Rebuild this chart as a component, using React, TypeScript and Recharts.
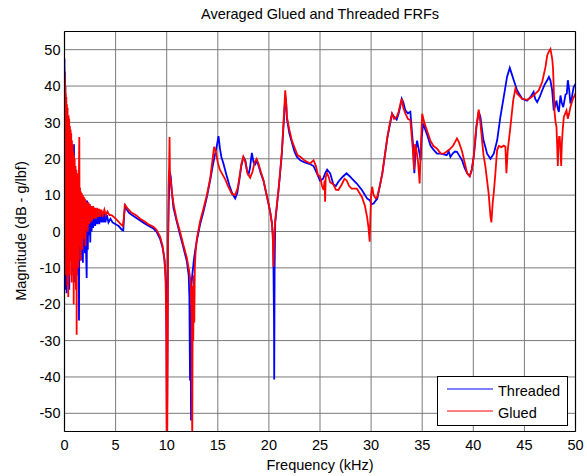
import { CartesianGrid, Line, LineChart, XAxis, YAxis } from "recharts";

const FONT = '"Liberation Sans", Arial, Helvetica, sans-serif';

// axis ticks
const xTicks = [0, 5, 10, 15, 20, 25, 30, 35, 40, 45, 50];
const yTicks = [-50, -40, -30, -20, -10, 0, 10, 20, 30, 40, 50];

// Threaded FRF: [frequency kHz, magnitude dB]
const threaded: [number, number][] = [
  [0, 47.5], [0.02, 20], [0.04, 44], [0.06, -10], [0.08, 40], [0.1, -15], [0.12, 37], [0.14, -16],
  [0.16, 35], [0.18, 0], [0.2, -17], [0.22, 33], [0.25, -5], [0.28, 31], [0.3, -10], [0.33, 29],
  [0.36, -6], [0.39, 27], [0.42, -12], [0.45, 26], [0.47, -16], [0.5, 24], [0.53, -4], [0.56, 23],
  [0.6, -8], [0.63, 22], [0.66, -2], [0.7, 21], [0.73, -11], [0.76, 20], [0.8, -6], [0.83, 19],
  [0.86, -12], [0.9, 18], [0.93, 24], [0.96, -8], [1.0, 17], [1.03, -14], [1.06, 16], [1.1, -5],
  [1.13, 15], [1.17, -10], [1.2, 14], [1.24, -3], [1.28, 13], [1.32, -12], [1.36, 12], [1.42, -24.5],
  [1.46, 11], [1.5, -6], [1.55, 10.5], [1.6, -8], [1.65, 10], [1.7, -3], [1.75, 9.5], [1.8, -8.6],
  [1.85, 9], [1.9, -2], [1.95, 9], [2.0, -6], [2.05, 8.5], [2.1, -4], [2.17, -12.8], [2.22, 8.5],
  [2.28, -5], [2.34, 8], [2.4, -1], [2.46, 7.5], [2.52, -3], [2.58, 7], [2.65, 0], [2.72, 7],
  [2.8, 1], [2.9, 6.5], [3.0, 1.5], [3.1, 6], [3.2, 2], [3.3, 5.5], [3.4, 2], [3.5, 5.5],
  [3.6, 2.5], [3.7, 5], [3.8, 2.5], [3.9, 5], [4.0, 2.5], [4.15, 4.5], [4.3, 2.5], [4.5, 3.5],
  [4.7, 2.5], [5.0, 2], [5.3, 1.5], [5.6, 0.5], [5.75, 0.3], [5.85, 5], [5.95, 7], [6.1, 6],
  [6.3, 5.2], [6.6, 4.5], [7.0, 3.8], [7.4, 3], [7.8, 2.3], [8.2, 1.6], [8.7, 0.8], [9.0, 0],
  [9.35, -2], [9.6, -4.5], [9.8, -8], [9.92, -14], [9.98, -30], [10.02, -60], [10.06, -40], [10.12, -5],
  [10.2, 8], [10.3, 16.5], [10.4, 15], [10.5, 11], [10.66, 6.5], [11.0, 2.5], [11.3, -0.8], [11.64, -4.5],
  [11.97, -8.2], [12.15, -12], [12.22, -18], [12.28, -41], [12.33, -20], [12.38, -52], [12.42, -15], [12.5, -12],
  [12.58, -10], [12.65, -8], [12.8, -5], [12.95, -2.5], [13.27, 2], [13.6, 5.5], [13.93, 9.5], [14.25, 14],
  [14.5, 18], [14.75, 21.5], [14.9, 23.5], [15.07, 26.2], [15.2, 23], [15.35, 20.5], [15.55, 18.7], [15.8, 16],
  [16.1, 13], [16.4, 10.5], [16.7, 9.1], [16.9, 10.5], [17.1, 14], [17.3, 18], [17.5, 20.5], [17.7, 19.5],
  [17.85, 17], [18.0, 15.5], [18.15, 17.5], [18.33, 21.6], [18.5, 19], [18.65, 18.5], [18.8, 19.5], [19.0, 18],
  [19.2, 16], [19.47, 14], [19.7, 11], [19.96, 7.7], [20.15, 5], [20.3, 2.2], [20.42, -2], [20.5, -25],
  [20.52, -40.7], [20.56, -10], [20.62, 2.6], [20.78, 7], [20.94, 11.4], [21.1, 16], [21.27, 21.6], [21.45, 30],
  [21.6, 37], [21.7, 35], [21.76, 31], [22.0, 27], [22.25, 24.5], [22.5, 22], [22.74, 20.5], [23.1, 19.5],
  [23.5, 19], [24.05, 18.5], [24.37, 18], [24.7, 16], [25.0, 14], [25.3, 14.5], [25.5, 16], [25.7, 17],
  [25.85, 16.5], [26.0, 16], [26.3, 13], [26.55, 12.5], [26.8, 13.7], [27.2, 15], [27.6, 16], [27.9, 15.2],
  [28.1, 14.6], [28.6, 13.2], [29.1, 11.4], [29.6, 9.1], [29.86, 8.6], [30.05, 7.5], [30.25, 7.7], [30.45, 8.5],
  [30.6, 9], [30.85, 12.5], [31.1, 16], [31.35, 21], [31.6, 26], [31.85, 29.5], [32.05, 32.4], [32.25, 31.5],
  [32.5, 30.8], [32.7, 32.5], [32.9, 35], [33.0, 36.5], [33.15, 35.5], [33.35, 33.3], [33.6, 32.5], [33.84, 32.9],
  [33.95, 29], [34.1, 24], [34.23, 16], [34.35, 22], [34.5, 25], [34.7, 22], [34.85, 19.6], [34.95, 26],
  [35.1, 29.7], [35.3, 28], [35.5, 26.5], [35.8, 23.7], [36.1, 22.5], [36.45, 21.4], [36.8, 21.4], [37.1, 21.2],
  [37.4, 21], [37.6, 22], [37.76, 20.5], [38.0, 21.5], [38.2, 22], [38.4, 21.9], [38.6, 21], [38.9, 19.6],
  [39.15, 17.5], [39.4, 16], [39.65, 15.2], [39.85, 17], [40.04, 20.5], [40.2, 25], [40.3, 28.7], [40.53, 32.9],
  [40.7, 31.5], [40.86, 27.8], [41.0, 25], [41.2, 23], [41.35, 21.4], [41.68, 20], [42.0, 21.4], [42.33, 25],
  [42.65, 31.5], [42.98, 37], [43.3, 42.5], [43.57, 45], [43.96, 41.6], [44.29, 38.8], [44.78, 36.5], [45.27, 36],
  [45.6, 37], [45.9, 38.4], [46.05, 36.5], [46.25, 35.6], [46.5, 37], [46.74, 38.8], [47.0, 40.5], [47.23, 41.6],
  [47.4, 42.5], [47.55, 41.5], [47.72, 38.8], [47.87, 33.3], [48.0, 34.5], [48.14, 36], [48.25, 34], [48.37, 32.9],
  [48.53, 37.4], [48.65, 35.5], [48.8, 34.2], [49.02, 37.6], [49.15, 38], [49.25, 41.6], [49.38, 39], [49.5, 35.2],
  [49.65, 37], [49.82, 39.7], [50, 40.6],
];

// Glued FRF: [frequency kHz, magnitude dB]
const glued: [number, number][] = [
  [0, 44], [0.02, 10], [0.04, 42], [0.06, 0], [0.08, 40], [0.1, -5], [0.12, 38], [0.15, -12],
  [0.18, 37], [0.21, -8], [0.24, 35], [0.27, -15], [0.3, 34], [0.34, -12], [0.37, -18], [0.4, 32],
  [0.43, -6], [0.46, 31], [0.5, -12], [0.53, 29], [0.56, -4], [0.6, 28], [0.63, -8], [0.66, 27],
  [0.7, -14], [0.73, 25], [0.76, -3], [0.8, 24], [0.83, -10], [0.86, 22], [0.9, -20], [0.93, 21],
  [0.96, -6], [1.0, 20], [1.04, -12], [1.08, 18], [1.12, -16], [1.16, 17], [1.19, -28.4], [1.23, 16],
  [1.27, -8], [1.31, 14], [1.35, -10], [1.4, 13], [1.45, 26], [1.48, -4], [1.52, 12], [1.56, -8],
  [1.6, 11], [1.65, -2], [1.7, 10.5], [1.75, -5], [1.8, 10], [1.85, 0], [1.9, 9.5], [1.95, -2],
  [2.0, 9], [2.05, -4], [2.1, 8.5], [2.15, 1], [2.2, 8], [2.27, 0], [2.33, 8], [2.4, 2],
  [2.47, 7.5], [2.55, 2.5], [2.62, 7], [2.7, 3], [2.8, 7], [2.9, 3.5], [3.0, 6.5], [3.1, 3.5],
  [3.2, 6.5], [3.3, 4], [3.4, 6.2], [3.5, 4], [3.6, 6], [3.75, 4.5], [3.9, 6], [4.05, 4.5],
  [4.2, 5.5], [4.4, 4.5], [4.6, 4.5], [4.9, 3.8], [5.2, 3], [5.5, 2], [5.7, 1.5], [5.8, 3.5],
  [5.9, 7.3], [6.0, 7], [6.2, 6.2], [6.5, 5.3], [7.0, 4.5], [7.4, 3.5], [7.8, 2.8], [8.2, 2],
  [8.7, 1.3], [9.0, 0.5], [9.35, -1.4], [9.6, -4], [9.75, -7], [9.88, -12], [9.96, -25], [10.0, -60],
  [10.05, -60], [10.1, -30], [10.14, -2], [10.18, 12], [10.24, 18], [10.28, 26], [10.32, 15], [10.4, 14],
  [10.55, 10], [10.7, 7], [11.0, 3], [11.3, 0], [11.64, -3.8], [11.97, -7.2], [12.2, -11], [12.35, -14],
  [12.45, -25], [12.5, -60], [12.55, -15], [12.6, -30], [12.65, -12], [12.7, -25], [12.75, -10], [12.82, -6],
  [12.95, -2], [13.27, 2.8], [13.6, 6.3], [13.93, 10], [14.25, 14.5], [14.45, 19], [14.64, 23.3], [14.8, 22],
  [15.0, 19], [15.2, 17], [15.4, 16], [15.7, 14.5], [16.0, 12.5], [16.37, 10.4], [16.7, 10], [16.95, 12],
  [17.15, 15.5], [17.3, 18.5], [17.5, 20.5], [17.7, 19], [17.9, 16], [18.17, 14.8], [18.4, 16.5], [18.6, 19],
  [18.8, 20], [19.0, 18.5], [19.2, 16.5], [19.47, 14.1], [19.7, 11], [19.96, 7.7], [20.15, 5], [20.3, 2.2],
  [20.4, -3], [20.45, -9.7], [20.52, -2], [20.62, 3], [20.78, 7.5], [20.94, 11.4], [21.1, 16.5], [21.27, 22],
  [21.45, 31], [21.6, 38.8], [21.68, 36], [21.76, 31.5], [22.0, 28], [22.25, 25], [22.6, 22.4], [22.8, 21],
  [23.1, 20.5], [23.5, 19.5], [24.05, 18.7], [24.37, 19.6], [24.6, 18], [24.8, 15.5], [25.0, 15.2], [25.2, 12.5],
  [25.35, 11.4], [25.45, 14], [25.5, 8.2], [25.56, 15], [25.7, 16], [25.85, 15], [26.0, 13.5], [26.3, 13],
  [26.55, 11.5], [26.8, 11.4], [27.1, 12.8], [27.4, 14.5], [27.6, 14.1], [27.85, 12.5], [28.1, 11.8], [28.6, 11.8],
  [29.1, 9.5], [29.4, 7], [29.6, 4.1], [29.75, 1], [29.86, -2.8], [29.92, 3], [30.0, 10], [30.1, 12.3],
  [30.25, 10], [30.45, 9.1], [30.6, 9.5], [30.85, 12.5], [31.1, 16], [31.35, 21], [31.6, 26], [31.85, 30],
  [32.05, 32.4], [32.25, 31], [32.5, 31.5], [32.7, 33], [32.9, 35.5], [33.0, 36.5], [33.15, 34], [33.35, 32.5],
  [33.6, 31], [33.84, 30.6], [33.95, 27], [34.1, 22], [34.2, 17], [34.3, 24], [34.45, 22], [34.6, 19],
  [34.75, 13.2], [34.85, 22], [35.0, 32.4], [35.2, 30], [35.5, 27.5], [35.8, 25], [36.1, 23.5], [36.45, 22.8],
  [36.8, 21.5], [37.1, 21.4], [37.4, 22], [37.76, 22.8], [38.0, 23.5], [38.2, 24.5], [38.4, 25.6], [38.6, 24.5],
  [38.9, 22], [39.15, 19], [39.4, 16], [39.65, 15.2], [39.85, 17], [40.04, 20.5], [40.2, 26], [40.3, 28.7],
  [40.53, 33.5], [40.7, 29.7], [40.86, 25], [41.0, 21], [41.19, 17.8], [41.35, 14], [41.5, 10.5], [41.68, 4.1],
  [41.77, 2.5], [41.9, 8], [42.0, 10.5], [42.16, 16], [42.33, 22.4], [42.5, 23.5], [42.75, 23.2], [42.98, 23.6],
  [43.14, 23.3], [43.24, 16], [43.37, 22.4], [43.63, 28.7], [43.9, 36], [44.12, 39.3], [44.29, 37.9], [44.78, 36.5],
  [45.27, 36.2], [45.6, 36.8], [45.9, 37.4], [46.1, 38], [46.4, 38.8], [46.74, 41.1], [47.06, 45.2], [47.23, 48.4],
  [47.4, 49.5], [47.55, 50.2], [47.72, 47.5], [47.8, 45], [47.95, 32.9], [48.05, 30], [48.14, 28.8], [48.2, 24],
  [48.27, 18], [48.33, 24], [48.4, 26], [48.46, 26], [48.53, 22], [48.6, 18], [48.66, 24], [48.75, 28],
  [48.86, 31.5], [49.0, 32.5], [49.12, 33.3], [49.25, 31], [49.38, 32.5], [49.5, 34.2], [49.75, 36.5], [50, 37.9],
];

const toRows = (pts: [number, number][]) => pts.map(([f, v]) => ({ f, v }));

export default function App() {
  return (
    <div
      style={{
        position: "absolute",
        left: 0,
        top: 0,
        width: 587,
        height: 476,
        background: "#fff",
        fontFamily: FONT,
        fontSize: 14.5,
      }}
    >
      <LineChart width={587} height={476} margin={{ top: 31.5, right: 11.5, bottom: 14.5, left: 4 }}>
        <CartesianGrid stroke="#7a7a7a" strokeWidth={1} />
        <XAxis
          dataKey="f"
          type="number"
          domain={[0, 50]}
          ticks={xTicks}
          allowDataOverflow
          height={30}
          tickLine={false}
          axisLine={{ stroke: "#000", strokeWidth: 1.2 }}
          tick={{ fill: "#000", fontSize: 14.5 }}
        />
        {/* inward ticks + frame, matlab style */}
        <XAxis xAxisId="bt" type="number" domain={[0, 50]} ticks={xTicks} allowDataOverflow orientation="bottom" mirror tick={false} axisLine={false} tickSize={5} tickLine={{ stroke: "#000" }} />
        <XAxis xAxisId="tp" type="number" domain={[0, 50]} ticks={xTicks} allowDataOverflow orientation="top" mirror tick={false} tickSize={5} axisLine={{ stroke: "#000", strokeWidth: 1.2 }} tickLine={{ stroke: "#000" }} />
        <YAxis
          type="number"
          domain={[-55, 55]}
          ticks={yTicks}
          allowDataOverflow
          width={60.5}
          tickSize={0}
          tickMargin={4}
          tickLine={false}
          axisLine={{ stroke: "#000", strokeWidth: 1.2 }}
          tick={{ fill: "#000", fontSize: 14.5 }}
        />
        <YAxis yAxisId="lt" type="number" domain={[-55, 55]} ticks={yTicks} allowDataOverflow orientation="left" mirror tick={false} axisLine={false} tickSize={5} tickLine={{ stroke: "#000" }} />
        <YAxis yAxisId="rt" type="number" domain={[-55, 55]} ticks={yTicks} allowDataOverflow orientation="right" mirror tick={false} tickSize={5} axisLine={{ stroke: "#000", strokeWidth: 1.2 }} tickLine={{ stroke: "#000" }} />
        <Line
          data={toRows(threaded)}
          dataKey="v"
          name="Threaded"
          type="linear"
          stroke="#0000ff"
          strokeWidth={1.8}
          dot={false}
          isAnimationActive={false}
        />
        <Line
          data={toRows(glued)}
          dataKey="v"
          name="Glued"
          type="linear"
          stroke="#ff0000"
          strokeWidth={1.8}
          dot={false}
          isAnimationActive={false}
        />
      </LineChart>

      <svg
        width={587}
        height={476}
        style={{ position: "absolute", left: 0, top: 0, pointerEvents: "none" }}
      >
        <text x={320} y={18.5} textAnchor="middle" fontSize={14.5} fill="#000">
          Averaged Glued and Threaded FRFs
        </text>
        <text x={320} y={470} textAnchor="middle" fontSize={14.5} fill="#000">
          Frequency (kHz)
        </text>
        <text
          x={0}
          y={0}
          transform="translate(25.5,231) rotate(-90)"
          textAnchor="middle"
          fontSize={14.5}
          fill="#000"
        >
          Magnitude (dB - g/lbf)
        </text>
        {/* legend */}
        <rect x={437.5} y={376.5} width={130} height={49} fill="#fff" stroke="#000" strokeWidth={1} />
        <line x1={447} x2={493} y1={389} y2={389} stroke="#0000ff" strokeWidth={1} />
        <text x={498} y={396} fontSize={14.5} fill="#000">Threaded</text>
        <line x1={447} x2={493} y1={411} y2={411} stroke="#ff0000" strokeWidth={1} />
        <text x={498} y={418} fontSize={14.5} fill="#000">Glued</text>
      </svg>
    </div>
  );
}
